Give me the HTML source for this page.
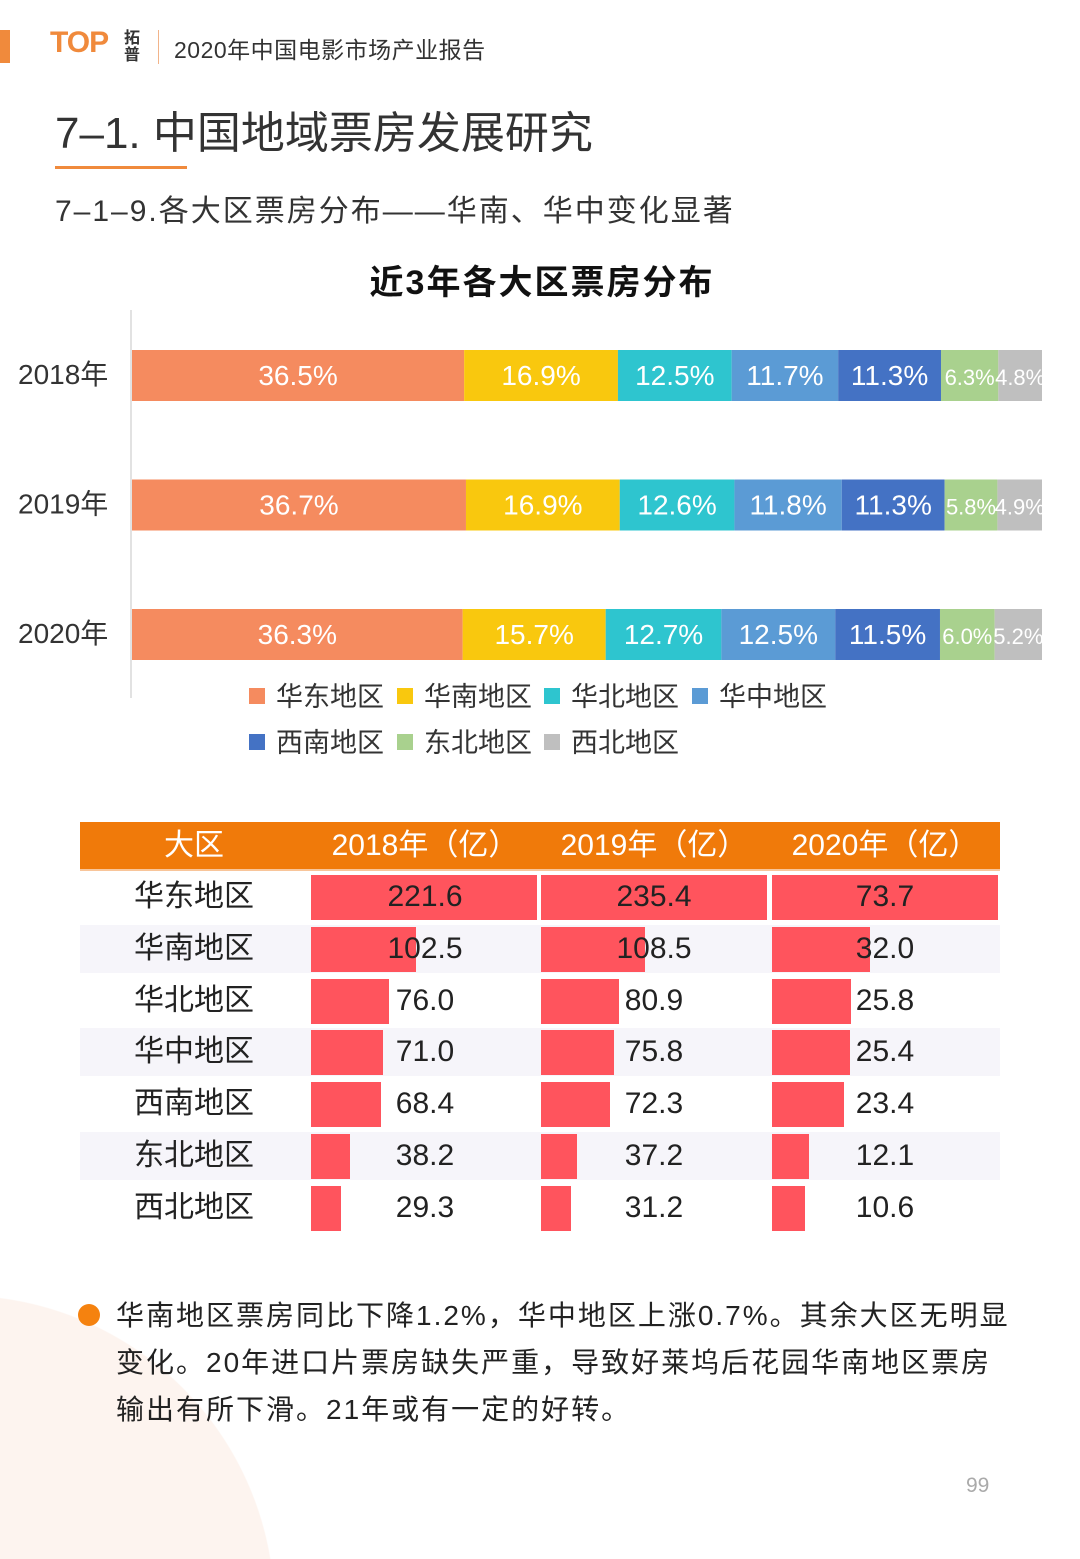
<!DOCTYPE html>
<html><head><meta charset="utf-8"><style>
body{margin:0;width:1080px;height:1559px;position:relative;background:#fff;overflow:hidden;font-family:"Liberation Sans","Noto Sans CJK SC",sans-serif;color:#222}
.a{position:absolute;white-space:nowrap}
</style></head><body>
<div class="a" style="left:0;top:1290px;width:280px;height:269px;background:radial-gradient(circle at -40px 320px,#fdf4ef 314px,rgba(255,255,255,0) 315px)"></div>
<div class="a" style="left:0;top:30px;width:10px;height:33px;background:#f08a3c"></div>
<div class="a" style="left:50px;top:26px;font:bold 30px 'Liberation Sans',sans-serif;color:#f08a3c;letter-spacing:-1px">TOP</div>
<div class="a" style="left:124px;top:28px;font:bold 16px/17px 'Noto Sans CJK SC',sans-serif;color:#333;white-space:normal;width:18px">拓普</div>
<div class="a" style="left:158px;top:30px;width:1px;height:34px;background:#f2b48a"></div>
<div class="a" style="left:174px;top:31px;font-size:23px;color:#333;letter-spacing:0.5px">2020年中国电影市场产业报告</div>
<div class="a" style="left:55px;top:97px;font-size:44px;color:#333">7–1. 中国地域票房发展研究</div>
<div class="a" style="left:55px;top:166px;width:132px;height:3px;background:#f08a3c"></div>
<div class="a" style="left:55px;top:186px;font-size:30px;color:#333;letter-spacing:2px">7–1–9.各大区票房分布——华南、华中变化显著</div>
<svg class="a" style="left:0;top:0" width="1080" height="800">
<text x="542" y="294" text-anchor="middle" font-size="34" font-weight="bold" fill="#111" letter-spacing="2">近3年各大区票房分布</text>
<line x1="131" y1="310" x2="131" y2="698" stroke="#d9d9d9" stroke-width="1.5"/>
<g id="bars"></g><g id="legend"></g>
</svg>
<div class="a" style="left:80px;top:822px;width:920px;height:47px;background:#f07a0a"></div>
<div class="a" style="left:80px;top:869px;width:920px;height:2px;background:#f8c59a"></div>
<div id="table"></div>
<div class="a" style="left:78px;top:1304px;width:22px;height:22px;border-radius:50%;background:#f5820f"></div>
<div class="a" style="left:116px;top:1292px;font-size:28px;line-height:47px;color:#222;letter-spacing:2px">华南地区票房同比下降1.2%，华中地区上涨0.7%。其余大区无明显<br>变化。20年进口片票房缺失严重，导致好莱坞后花园华南地区票房<br>输出有所下滑。21年或有一定的好转。</div>
<div class="a" style="left:966px;top:1474px;font-size:21px;color:#aaa">99</div>
<script>
const years=["2018年","2019年","2020年"];
const regions=["华东地区","华南地区","华北地区","华中地区","西南地区","东北地区","西北地区"];
const share2018=[36.5,16.9,12.5,11.7,11.3,6.3,4.8];
const share2019=[36.7,16.9,12.6,11.8,11.3,5.8,4.9];
const share2020=[36.3,15.7,12.7,12.5,11.5,6.0,5.2];
const box2018=[221.6,102.5,76.0,71.0,68.4,38.2,29.3];
const box2019=[235.4,108.5,80.9,75.8,72.3,37.2,31.2];
const box2020=[73.7,32.0,25.8,25.4,23.4,12.1,10.6];
const colors=["#f58b5f","#f9c80e","#2ec5cf","#5b9bd5","#4472c4","#a9d18e","#bfbfbf"];
const NS="http://www.w3.org/2000/svg";
const x0=132,xw=910;
const yRow=i=>350+i*129.5;
const bars=document.getElementById('bars');
[share2018,share2019,share2020].forEach((s,i)=>{
  const tot=s.reduce((a,b)=>a+b,0);
  let cx=x0;
  const y=yRow(i);
  const yl=document.createElementNS(NS,'text');
  
  
  yl.setAttribute('x',18);yl.setAttribute('y',y+34);yl.setAttribute('font-size','28');yl.setAttribute('fill','#333');
  yl.textContent=years[i];bars.appendChild(yl);
  s.forEach((v,j)=>{
    const w=v/tot*xw;
    const r=document.createElementNS(NS,'rect');
    
    
    r.setAttribute('x',cx);r.setAttribute('y',y);r.setAttribute('width',w);r.setAttribute('height',51);r.setAttribute('fill',colors[j]);
    bars.appendChild(r);
    const t=document.createElementNS(NS,'text');
    
    
    t.setAttribute('x',cx+w/2);t.setAttribute('y',y+35);t.setAttribute('text-anchor','middle');
    t.setAttribute('font-size',j>=5?'22':'28');t.setAttribute('fill','#fff');
    t.textContent=v.toFixed(1)+'%';bars.appendChild(t);
    cx+=w;
  });
});
const lg=document.getElementById('legend');
const lx=[249,397,544,692];
regions.forEach((n,k)=>{
  const row=Math.floor(k/4),col=k%4;
  const y=row?742:696;
  const r=document.createElementNS(NS,'rect');
  
  
  r.setAttribute('x',lx[col]);r.setAttribute('y',y-8);r.setAttribute('width',16);r.setAttribute('height',16);r.setAttribute('fill',colors[k]);
  lg.appendChild(r);
  const t=document.createElementNS(NS,'text');
  
  
  t.setAttribute('x',lx[col]+27);t.setAttribute('y',y+10);t.setAttribute('font-size','27');t.setAttribute('fill','#333');
  t.textContent=n;lg.appendChild(t);
});
const tb=document.getElementById('table');
function div(css,txt){const d=document.createElement('div');d.className='a';d.style.cssText=css;if(txt!==undefined)d.textContent=txt;tb.appendChild(d);return d;}
const heads=["大区","2018年（亿）","2019年（亿）","2020年（亿）"];
const hc=[194,425,654,885];
heads.forEach((h,i)=>{const d=div(`left:${hc[i]-120}px;top:822px;height:47px;line-height:47px;width:240px;text-align:center;font-size:30px;color:#fff`,h);

});
const cols=[box2018,box2019,box2020];
const cx=[311,541,772],cw=226;
regions.forEach((n,r)=>{
  const top=873+r*51.8;
  if(r%2===1){const b=div(`left:80px;top:${top}px;width:920px;height:48px;background:#f6f5fa`);
  
  }
  const l=div(`left:94px;top:${top}px;height:48px;line-height:48px;width:200px;text-align:center;font-size:30px;color:#222`,n);
  
  
  cols.forEach((c,k)=>{
    const mx=Math.max(...c);
    const bar=div(`left:${cx[k]}px;top:${top+2}px;width:${c[r]/mx*cw}px;height:45px;background:#ff545d`);
    
    
    const t=div(`left:${hc[k+1]-100}px;top:${top}px;height:48px;line-height:48px;width:200px;text-align:center;font-size:30px;color:#222`,c[r].toFixed(1));
    
    
  });
});
</script>
</body></html>
